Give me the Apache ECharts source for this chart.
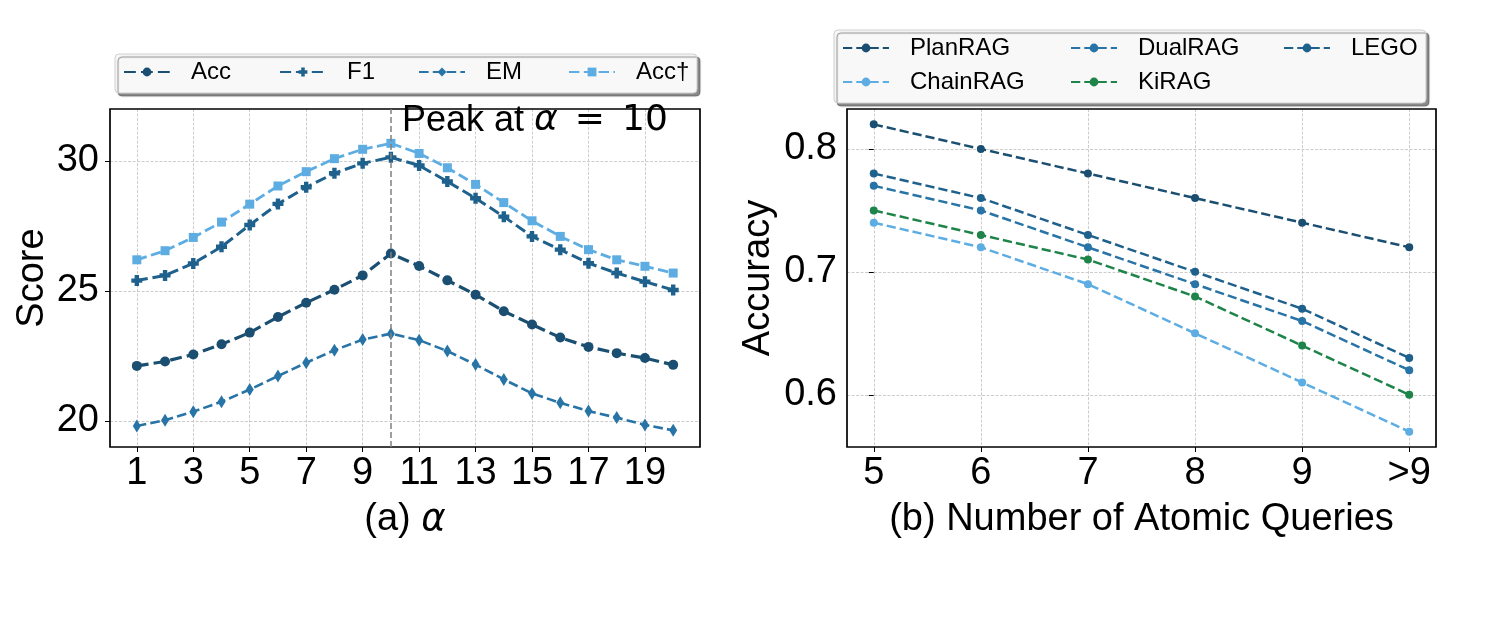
<!DOCTYPE html>
<html><head><meta charset="utf-8">
<script src="https://cdn.jsdelivr.net/npm/echarts@6/dist/echarts.min.js"></script>
<style>html,body{margin:0;padding:0;background:#fff}#c{width:1506px;height:624px}</style>
</head><body><div id="c"></div>
<script>
// ---------- data: panel (a) ----------
const alphaValues = [1,2,3,4,5,6,7,8,9,10,11,12,13,14,15,16,17,18,19,20];
const alphaTicks = [1,3,5,7,9,11,13,15,17,19];
const scoreTicks = [20,25,30];
const accData = [22.12,22.29,22.56,22.95,23.40,24.00,24.55,25.05,25.60,26.44,25.96,25.41,24.86,24.22,23.71,23.21,22.85,22.61,22.42,22.16];
const f1Data = [25.40,25.60,26.06,26.70,27.54,28.35,28.99,29.53,29.91,30.14,29.83,29.21,28.57,27.86,27.10,26.59,26.07,25.69,25.36,25.04];
const emData = [19.81,20.03,20.36,20.74,21.21,21.73,22.24,22.72,23.13,23.36,23.11,22.69,22.17,21.60,21.06,20.70,20.38,20.13,19.85,19.64];
const accDaggerData = [26.20,26.55,27.06,27.65,28.34,29.04,29.59,30.09,30.45,30.68,30.29,29.74,29.10,28.40,27.70,27.10,26.59,26.20,25.95,25.69];
const peakAlpha = 10;

// ---------- data: panel (b) ----------
const queryCategories = ['5','6','7','8','9','>9'];
const accuracyTicks = [0.6,0.7,0.8];
const planRAG = [0.82,0.80,0.78,0.76,0.74,0.72];
const chainRAG = [0.74,0.72,0.69,0.65,0.61,0.57];
const dualRAG = [0.77,0.75,0.72,0.69,0.66,0.62];
const kiRAG = [0.75,0.73,0.71,0.68,0.64,0.60];
const lego = [0.78,0.76,0.73,0.70,0.67,0.63];

const FONT = 'Liberation Sans';
const MATH = 'DejaVu Sans';
const C_DARK = '#1B4F72', C_MID = '#1F618D', C_BLUE = '#2874A6', C_LIGHT = '#5DADE2', C_GREEN = '#1E8449';
const PLUS = 'path://M3,0H7V3H10V7H7V10H3V7H0V3H3Z';
const THIN_DIAMOND = 'path://M3,0L6,5L3,10L0,5Z';

const gridLine = {show:true, lineStyle:{color:'#c0c0c0', width:0.8, type:[3,1.5]}};
const tick = (vals) => ({show:true, inside:false, length:5, customValues: vals, lineStyle:{color:'#000', width:1}});

function xy(xs, ys){ return xs.map((x,i)=>[x, ys[i]]); }
const catIdx = queryCategories.map((c,i)=>i);

function lineSeries(name, data, color, symbol, size, width, xi){
  return {
    name, type:'line', xAxisIndex:xi, yAxisIndex:xi, data,
    symbol, symbolSize:size, showSymbol:true,
    lineStyle:{color, width, type:[width*3.7, width*1.6]},
    itemStyle:{color}, emphasis:{disabled:true}, z:3
  };
}

function legendItem(name, left, top){
  return {
    data:[name], left, top, padding:0, orient:'horizontal',
    itemWidth:46, itemHeight:11, itemGap:0,
    textStyle:{fontFamily:FONT, fontSize:24, color:'#000', padding:[0,0,0,16]},
    selectedMode:false
  };
}

const chart = echarts.init(document.getElementById('c'), null, {renderer:'canvas'});
const series = [
  lineSeries('Acc', xy(alphaValues, accData), C_DARK, 'circle', 10, 3.2, 0),
  lineSeries('F1', xy(alphaValues, f1Data), C_MID, PLUS, 11, 3, 0),
  lineSeries('EM', xy(alphaValues, emData), C_BLUE, THIN_DIAMOND, [8,13], 2.6, 0),
  lineSeries('Acc\u2020', xy(alphaValues, accDaggerData), C_LIGHT, 'rect', 9, 2.8, 0),
  lineSeries('PlanRAG', xy(catIdx, planRAG), C_DARK, 'circle', 8, 2.5, 1),
  lineSeries('ChainRAG', xy(catIdx, chainRAG), C_LIGHT, 'circle', 8, 2.5, 1),
  lineSeries('DualRAG', xy(catIdx, dualRAG), C_BLUE, 'circle', 8, 2.5, 1),
  lineSeries('KiRAG', xy(catIdx, kiRAG), C_GREEN, 'circle', 8, 2.5, 1),
  lineSeries('LEGO', xy(catIdx, lego), C_MID, 'circle', 8, 2.5, 1)
];
series[0].markLine = {
  silent:true, symbol:['none','none'], label:{show:false},
  lineStyle:{color:'#808080', width:1.5, type:[6,3]},
  data:[{xAxis: peakAlpha}], animation:false
};

const option = {
  animation:false,
  backgroundColor:'#fff',
  textStyle:{fontFamily:FONT},
  grid:[
    {left:110, right:806, top:109, bottom:177, show:true, borderColor:'#000', borderWidth:1.7, backgroundColor:'transparent', z:1},
    {left:847, right:70, top:109, bottom:177, show:true, borderColor:'#000', borderWidth:1.7, backgroundColor:'transparent', z:1}
  ],
  xAxis:[
    {gridIndex:0, type:'value', min:0.05, max:20.95,
     axisLine:{show:false}, axisTick:tick(alphaTicks), splitLine:gridLine,
     axisLabel:{customValues:alphaTicks, fontFamily:FONT, fontSize:38, color:'#000', margin:8},
     name:'(a) {i|\u03b1}', nameLocation:'middle', nameGap:54,
     nameTextStyle:{fontFamily:FONT, fontSize:38, color:'#000', rich:{i:{fontFamily:MATH, fontSize:37, fontStyle:'italic', color:'#000'}}}},
    {gridIndex:1, type:'value', min:-0.25, max:5.25,
     axisLine:{show:false}, axisTick:tick(catIdx), splitLine:gridLine,
     axisLabel:{customValues:catIdx, formatter:(v)=>queryCategories[Math.round(v)], fontFamily:FONT, fontSize:38, color:'#000', margin:8},
     name:'(b) Number of Atomic Queries', nameLocation:'middle', nameGap:54,
     nameTextStyle:{fontFamily:FONT, fontSize:38, color:'#000'}}
  ],
  yAxis:[
    {gridIndex:0, type:'value', min:19, max:32,
     axisLine:{show:false}, axisTick:tick(scoreTicks), splitLine:gridLine,
     axisLabel:{customValues:scoreTicks, fontFamily:FONT, fontSize:38, color:'#000', margin:11},
     name:'Score', nameLocation:'middle', nameGap:58,
     nameTextStyle:{fontFamily:FONT, fontSize:38, color:'#000'}},
    {gridIndex:1, type:'value', min:0.5575, max:0.8325,
     axisLine:{show:false}, axisTick:tick(accuracyTicks), splitLine:gridLine,
     axisLabel:{customValues:accuracyTicks, formatter:(v)=>v.toFixed(1), fontFamily:FONT, fontSize:38, color:'#000', margin:10},
     name:'Accuracy', nameLocation:'middle', nameGap:69,
     nameTextStyle:{fontFamily:FONT, fontSize:38, color:'#000'}}
  ],
  legend:[
    legendItem('Acc', 123, 60),
    legendItem('F1', 279, 60),
    legendItem('EM', 418, 60),
    legendItem('Acc\u2020', 568, 60),
    legendItem('PlanRAG', 842, 36),
    legendItem('ChainRAG', 842, 70),
    legendItem('DualRAG', 1070, 36),
    legendItem('KiRAG', 1070, 70),
    legendItem('LEGO', 1283, 36)
  ],
  graphic:[
    {type:'rect', z:-1, zlevel:0, silent:true, shape:{x:115, y:54, width:582, height:39, r:4},
     style:{fill:'#f8f8f8', stroke:'#cfcfcf', lineWidth:1, shadowColor:'rgba(0,0,0,0.45)', shadowOffsetX:3, shadowOffsetY:3, shadowBlur:1}},
    {type:'rect', z:-1, zlevel:0, silent:true, shape:{x:834, y:30, width:592, height:73, r:4},
     style:{fill:'#f8f8f8', stroke:'#cfcfcf', lineWidth:1, shadowColor:'rgba(0,0,0,0.45)', shadowOffsetX:3, shadowOffsetY:3, shadowBlur:1}},
    {type:'text', z:100, silent:true, left:402, top:103,
     style:{text:'Peak at {i|\u03b1}{e|=}{m|10}', fontFamily:FONT, fontSize:36, fill:'#000',
            rich:{i:{fontFamily:MATH, fontSize:36, fontStyle:'italic', fill:'#000'},
                  e:{fontFamily:MATH, fontSize:36, fill:'#000', padding:[0,17,0,17]},
                  m:{fontFamily:MATH, fontSize:36, fill:'#000'}}}}
  ],
  series
};
chart.setOption(option);
</script>
</body></html>
